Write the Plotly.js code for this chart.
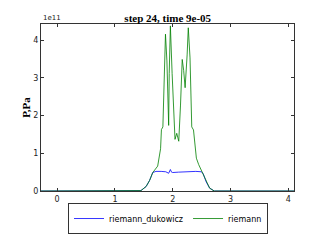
<!DOCTYPE html>
<html>
<head>
<meta charset="utf-8">
<script src="https://cdn.plot.ly/plotly-3.0.1.min.js"></script>
<style>html,body{margin:0;padding:0;background:#fff;}#chart{width:327px;height:246px;}</style>
</head>
<body>
<div id="chart"></div>
<script>
// Pressure values in units of 1e11 Pa
const xDukowicz = [-0.28, 1.42, 1.45, 1.54, 1.60, 1.655, 1.71, 1.80, 1.88, 1.93, 1.945, 1.96, 1.98, 2.0, 2.1, 2.2, 2.3, 2.4, 2.50, 2.53, 2.58, 2.64, 2.72, 4.1];
const pDukowicz = [0, 0, 0.01, 0.12, 0.28, 0.49, 0.52, 0.52, 0.51, 0.47, 0.55, 0.57, 0.50, 0.49, 0.50, 0.51, 0.52, 0.52, 0.51, 0.45, 0.24, 0.075, 0, 0];
const xRiemann = [-0.28, 1.42, 1.45, 1.54, 1.60, 1.655, 1.74, 1.79, 1.805, 1.83, 1.85, 1.875, 1.90, 1.93, 1.94, 1.96, 1.99, 2.04, 2.07, 2.105, 2.135, 2.165, 2.19, 2.215, 2.25, 2.27, 2.30, 2.33, 2.36, 2.41, 2.45, 2.51, 2.58, 2.64, 2.72, 4.1];
const pRiemann = [0, 0, 0.01, 0.12, 0.28, 0.49, 0.66, 1.12, 1.63, 1.70, 3.12, 4.16, 3.45, 1.74, 3.12, 4.38, 3.12, 1.37, 1.53, 1.32, 2.28, 3.49, 3.2, 2.74, 3.61, 4.33, 3.53, 1.70, 1.62, 0.87, 0.70, 0.49, 0.24, 0.075, 0, 0];
const xTicks = [0, 1, 2, 3, 4];
const yTicks = [0, 1, 2, 3, 4];
const seriesNames = ["riemann_dukowicz", "riemann"];
const titleText = "step 24, time 9e-05";
const yTitle = "P,Pa";
const scaleLabel = "1e11";

const traces = [
  {x: xDukowicz, y: pDukowicz, name: seriesNames[0], type: "scatter", mode: "lines", line: {color: "#0000ff", width: 0.8}},
  {x: xRiemann, y: pRiemann, name: seriesNames[1], type: "scatter", mode: "lines", line: {color: "#008000", width: 0.8}}
];
const tickFont = {family: "DejaVu Sans", size: 8, color: "#222"};
const axisCommon = {showgrid: false, zeroline: false, showline: true, linecolor: "#333", linewidth: 1, mirror: "allticks", ticks: "inside", ticklen: 3, tickcolor: "#333", tickfont: tickFont};
const layout = {
  width: 327, height: 246,
  margin: {l: 41, r: 33, t: 24, b: 45, pad: 0},
  paper_bgcolor: "#fff", plot_bgcolor: "#fff",
  title: {text: titleText, font: {family: "Liberation Serif", size: 11, color: "#000", weight: "bold"}, x: 0.513, xanchor: "center", y: 0.925, yanchor: "middle"},
  xaxis: Object.assign({}, axisCommon, {range: [-0.28, 4.1], tickvals: xTicks, ticktext: xTicks.map(String)}),
  yaxis: Object.assign({}, axisCommon, {range: [0, 4.43], tickvals: yTicks, ticktext: yTicks.map(String),
    title: {text: yTitle, font: {family: "Liberation Serif", size: 11, color: "#000", weight: "bold"}, standoff: 0}}),
  showlegend: true,
  legend: {orientation: "h", x: 0.502, xanchor: "center", y: -0.072, yanchor: "top",
    bordercolor: "#333", borderwidth: 1, bgcolor: "#fff", font: {family: "DejaVu Sans", size: 8, color: "#000"},
    itemwidth: 30, tracegroupgap: 0},
  annotations: [{text: scaleLabel, xref: "paper", yref: "paper", x: 0, y: 1, xanchor: "left", yanchor: "bottom", showarrow: false, font: {family: "DejaVu Sans", size: 7, color: "#222"}, yshift: 0}]
};
Plotly.newPlot("chart", traces, layout, {displayModeBar: false, staticPlot: true});
</script>
</body>
</html>
